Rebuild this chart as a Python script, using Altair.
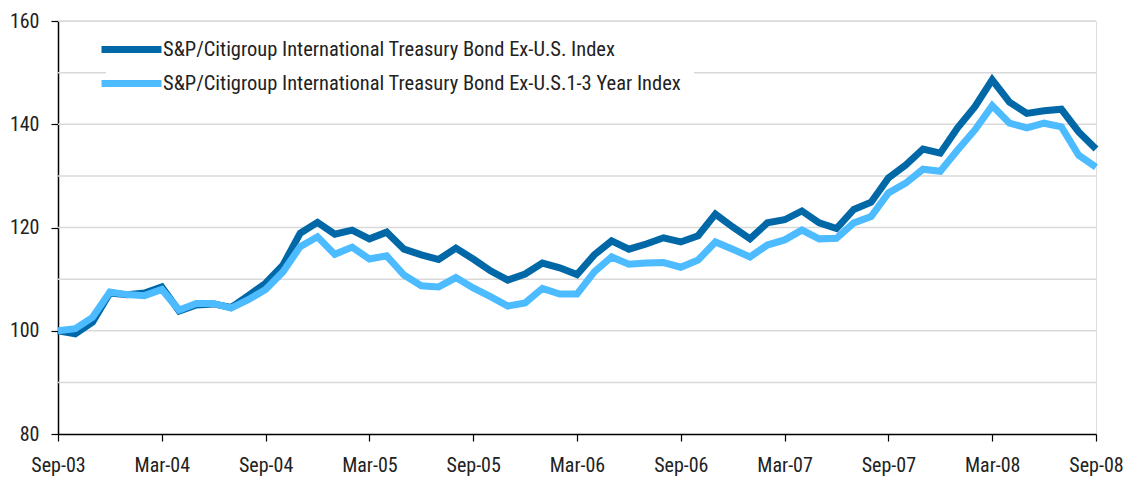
import altair as alt
import pandas as pd

FONT = "Roboto Condensed, Liberation Sans Narrow, DejaVu Sans Condensed, sans-serif"

series_names = [
    "S&P/Citigroup International Treasury Bond Ex-U.S. Index",
    "S&P/Citigroup International Treasury Bond Ex-U.S.1-3 Year Index",
]
colors = ["#0068a6", "#4dbbff"]

tick_labels = ["Sep-03", "Mar-04", "Sep-04", "Mar-05", "Sep-05", "Mar-06",
               "Sep-06", "Mar-07", "Sep-07", "Mar-08", "Sep-08"]

ex_us = [
    100.0, 99.4, 101.7, 107.3, 107.0, 107.3, 108.5, 103.8, 105.0, 105.2,
    104.5, 106.8, 109.2, 112.7, 118.9, 121.0, 118.7, 119.5, 117.8, 119.1,
    115.8, 114.7, 113.8, 116.0, 113.9, 111.6, 109.8, 111.0, 113.1, 112.2,
    110.9, 114.7, 117.4, 115.8, 116.8, 118.0, 117.2, 118.4, 122.6, 120.1,
    117.8, 120.9, 121.5, 123.2, 120.9, 119.8, 123.5, 124.9, 129.6, 132.1,
    135.2, 134.4, 139.3, 143.4, 148.6, 144.3, 142.1, 142.6, 142.9, 138.5,
    135.2,
]
ex_us_1_3 = [
    100.0, 100.4, 102.6, 107.5, 107.0, 106.8, 108.0, 104.0, 105.3, 105.3,
    104.4, 106.0, 108.0, 111.4, 116.3, 118.2, 114.8, 116.2, 113.9, 114.5,
    110.8, 108.7, 108.5, 110.3, 108.3, 106.6, 104.8, 105.4, 108.2, 107.1,
    107.1, 111.4, 114.3, 112.9, 113.1, 113.2, 112.3, 113.7, 117.2, 115.8,
    114.3, 116.6, 117.6, 119.5, 117.8, 117.9, 120.9, 122.1, 126.7, 128.6,
    131.3, 130.9, 135.0, 138.9, 143.6, 140.2, 139.3, 140.2, 139.5, 134.0,
    131.7,
]

grid_values = [90, 100, 110, 120, 130, 140, 150, 160]
y_tick_values = [80, 100, 120, 140, 160]

rows = []
for s, vals in zip(series_names, [ex_us, ex_us_1_3]):
    for i, v in enumerate(vals):
        rows.append({"month": i, "value": v, "series": s})
df = pd.DataFrame(rows)

label_array = "[" + ",".join("'%s'" % t for t in tick_labels) + "]"

x_scale = alt.Scale(domain=[0, 60], nice=False, zero=False)
y_scale = alt.Scale(domain=[80, 160], nice=False, zero=False)

y_axis = alt.Axis(
    values=y_tick_values,
    title=None,
    grid=False,
    domainColor="#000000",
    domainWidth=1.5,
    tickColor="#000000",
    tickSize=7,
    tickWidth=1.2,
    labelPadding=12,
    labelFontSize=20,
    labelFont=FONT,
    labelColor="#222222",
)

grid = alt.Chart(pd.DataFrame({"value": grid_values})).mark_rule(
    color="#d9d9d9", strokeWidth=1.5
).encode(
    y=alt.Y("value:Q", scale=y_scale, axis=y_axis),
)

lines = alt.Chart(df).mark_line(strokeWidth=7, strokeJoin="miter", strokeCap="butt").encode(
    x=alt.X(
        "month:Q",
        scale=x_scale,
        axis=alt.Axis(
            values=list(range(0, 61, 6)),
            labelExpr=label_array + "[round(datum.value/6)]",
            title=None,
            grid=False,
            labelFlush=False,
            labelOverlap=False,
            domainColor="#000000",
            domainWidth=1.5,
            tickColor="#000000",
            tickSize=7,
            tickWidth=1.2,
            labelPadding=14,
            labelFontSize=20,
            labelFont=FONT,
            labelColor="#222222",
        ),
    ),
    y=alt.Y("value:Q", scale=y_scale, axis=y_axis),
    color=alt.Color(
        "series:N",
        scale=alt.Scale(domain=series_names, range=colors),
        legend=alt.Legend(
            title=None,
            orient="none",
            legendX=48,
            legendY=3,
            fillColor="white",
            padding=12,
            symbolType="M-3,0L3,0",
            symbolSize=400,
            symbolStrokeWidth=7,
            symbolFillColor="transparent",
            labelFontSize=20.5,
            labelFont=FONT,
            labelColor="#222222",
            labelOffset=18,
            labelLimit=800,
            rowPadding=5,
        ),
    ),
    order=alt.Order("series:N"),
)

chart = alt.layer(grid, lines).properties(
    width=1038,
    height=413,
    autosize=alt.AutoSizeParams(type="none"),
    padding={"left": 58, "top": 21, "right": 29, "bottom": 45},
).configure_view(strokeWidth=0).configure(background="white")

chart.save("out.html", embed_options={"renderer": "svg", "actions": False})
